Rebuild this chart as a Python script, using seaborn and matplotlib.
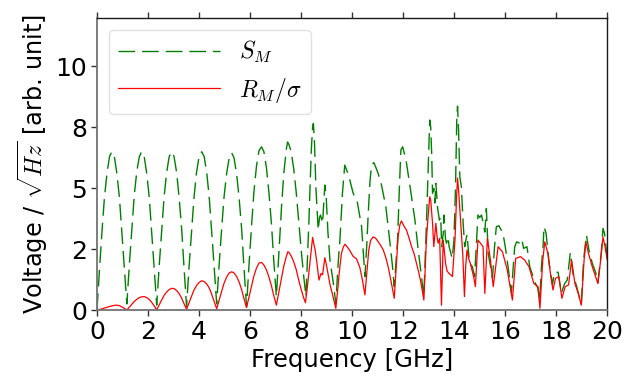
import matplotlib
matplotlib.use("Agg")
import matplotlib.pyplot as plt
import seaborn as sns
from matplotlib.ticker import FormatStrFormatter

# ---- data ----
freq_s = [
    0.00, 0.10, 0.20, 0.29, 0.39, 0.49, 0.58, 0.68, 0.78, 0.88, 0.97, 1.07, 1.17,
    1.27, 1.37, 1.46, 1.56, 1.66, 1.75, 1.85, 1.95, 2.05, 2.14, 2.24, 2.34,
    2.44, 2.54, 2.63, 2.73, 2.83, 2.93, 3.02, 3.12, 3.22, 3.32, 3.41, 3.51,
    3.61, 3.71, 3.80, 3.90, 4.00, 4.10, 4.20, 4.30, 4.40, 4.49, 4.59, 4.69,
    4.79, 4.89, 4.98, 5.08, 5.18, 5.28, 5.37, 5.47, 5.57, 5.67, 5.76, 5.86,
    5.96, 6.06, 6.15, 6.25, 6.35, 6.45, 6.54, 6.64, 6.74, 6.84, 6.93, 7.03,
    7.13, 7.23, 7.32, 7.42, 7.47, 7.52, 7.61, 7.71, 7.81, 7.90, 8.00, 8.10, 8.19,
    8.30, 8.40, 8.45, 8.48, 8.52, 8.58, 8.67, 8.72, 8.76, 8.84, 8.93, 8.98, 9.05,
    9.13, 9.25, 9.36, 9.45, 9.52, 9.62, 9.71, 9.80, 9.91, 10.04, 10.20, 10.37,
    10.50, 10.57, 10.63, 10.70, 10.76, 10.85, 10.93, 11.02, 11.15, 11.32, 11.47,
    11.58, 11.65, 11.72, 11.78, 11.85, 11.91, 11.98, 12.05, 12.11, 12.27, 12.46,
    12.59, 12.70, 12.81, 12.92, 13.00, 13.04, 13.08, 13.12, 13.15, 13.20, 13.24,
    13.28, 13.35, 13.42, 13.47, 13.51, 13.57, 13.60, 13.66, 13.70, 13.76, 13.80,
    13.92, 13.99, 14.05, 14.10, 14.13, 14.17, 14.22, 14.28, 14.35, 14.41, 14.50,
    14.60, 14.71, 14.80, 14.93, 15.00, 15.07, 15.20, 15.26, 15.33, 15.42, 15.50,
    15.58, 15.65, 15.75, 15.91, 16.00, 16.11, 16.24, 16.37, 16.45, 16.57, 16.65,
    16.72, 16.85, 16.96, 17.05, 17.15, 17.28, 17.35, 17.42, 17.48, 17.52, 17.60,
    17.72, 17.85, 17.93, 18.07, 18.20, 18.33, 18.43, 18.55, 18.66, 18.80, 18.98,
    19.07, 19.18, 19.28, 19.41, 19.54, 19.63, 19.76, 19.83, 19.89, 20.00,
]
s_m = [
    0.0, 1.7, 3.3, 4.6, 5.6, 6.3, 6.5, 6.3, 5.6, 4.6, 3.25, 1.7, 0.25,
    1.9, 3.4, 4.7, 5.7, 6.3, 6.5, 6.3, 5.6, 4.6, 3.25, 1.7, 0.2,
    1.85, 3.35, 4.65, 5.65, 6.3, 6.5, 6.3, 5.65, 4.6, 3.3, 1.75, 0.15,
    1.8, 3.3, 4.6, 5.65, 6.3, 6.5, 6.3, 5.65, 4.6, 3.3, 1.8, 0.25,
    1.9, 3.4, 4.65, 5.6, 6.25, 6.45, 6.25, 5.6, 4.6, 3.3, 1.75, 0.14,
    1.9, 3.5, 4.85, 5.9, 6.55, 6.7, 6.5, 5.85, 4.8, 3.5, 2.0, 0.55,
    2.4, 4.2, 5.6, 6.6, 6.9, 6.8, 6.5, 5.8, 4.8, 3.7, 2.5, 1.4, 0.55,
    3.5, 6.6, 7.5, 7.66, 7.0, 5.0, 3.28, 3.8, 3.9, 3.56, 5.13, 4.7, 3.2,
    2.05, 1.2, 0.27, 1.9, 2.87, 4.8, 5.95, 5.7, 5.33, 4.79, 4.44, 3.42,
    1.37, 2.6, 3.97, 5.3, 5.95, 6.05, 5.85, 5.6, 5.13, 4.24, 2.87,
    1.8, 0.96, 2.0, 2.87, 5.0, 6.57, 6.7, 6.4, 6.16, 5.06, 3.69,
    2.46, 1.5, 0.55, 3.83, 6.5, 7.8, 7.5, 6.29, 4.79, 4.99, 4.39,
    5.2, 4.17, 3.69, 3.83, 2.6, 3.15, 3.9, 2.9, 2.74, 3.0, 2.6,
    2.12, 2.87, 5.0, 7.8, 8.37, 7.4, 5.47, 5.06, 3.56, 2.6, 3.1,
    1.92, 1.78, 1.37, 3.9, 3.8, 3.9, 3.2, 4.17, 2.33, 1.8, 1.3,
    2.6, 3.42, 3.46, 3.15, 2.6, 1.78, 0.7, 2.6, 2.8, 2.74, 2.9,
    2.53, 2.6, 1.78, 1.5, 1.16, 0.9, 0.4, 1.8, 2.6, 3.42, 3.15,
    1.92, 1.05, 1.55, 1.55, 0.7, 1.09, 1.23, 2.36, 1.45, 0.96, 0.22,
    2.05, 3.08, 2.46, 1.92, 1.55, 1.12, 2.33, 3.35, 3.15, 2.1,
]

freq_r = [
    0.00, 0.10, 0.20, 0.29, 0.39, 0.49, 0.58, 0.68, 0.78, 0.88, 0.97, 1.07, 1.17,
    1.27, 1.37, 1.46, 1.56, 1.66, 1.75, 1.85, 1.95, 2.05, 2.14, 2.24, 2.34,
    2.44, 2.54, 2.63, 2.73, 2.83, 2.93, 3.02, 3.12, 3.22, 3.32, 3.41, 3.51,
    3.61, 3.71, 3.80, 3.90, 4.00, 4.10, 4.20, 4.30, 4.40, 4.49, 4.59, 4.69,
    4.79, 4.89, 4.98, 5.08, 5.18, 5.28, 5.37, 5.47, 5.57, 5.67, 5.76, 5.86,
    5.96, 6.06, 6.15, 6.25, 6.35, 6.45, 6.54, 6.64, 6.74, 6.84, 6.93, 7.03,
    7.13, 7.23, 7.32, 7.42, 7.48, 7.52, 7.61, 7.71, 7.81, 7.90, 8.00, 8.10, 8.17,
    8.25, 8.35, 8.45, 8.50, 8.55, 8.61, 8.70, 8.78, 8.84, 8.93, 9.00, 9.13,
    9.25, 9.36, 9.45, 9.49, 9.58, 9.66, 9.72, 9.80, 9.92, 10.04, 10.17, 10.30,
    10.40, 10.50, 10.58, 10.65, 10.72, 10.82, 10.92, 11.02, 11.12, 11.22, 11.32,
    11.41, 11.52, 11.65, 11.73, 11.80, 11.87, 11.93, 12.03, 12.13, 12.23, 12.33,
    12.43, 12.52, 12.62, 12.70, 12.81, 12.91, 12.98, 13.04, 13.08, 13.15, 13.20,
    13.28, 13.33, 13.37, 13.43, 13.50, 13.57, 13.66, 13.72, 13.80, 13.86, 13.93,
    14.03, 14.09, 14.13, 14.18, 14.24, 14.34, 14.40, 14.45, 14.50, 14.57, 14.63,
    14.76, 14.83, 14.93, 15.03, 15.13, 15.20, 15.30, 15.42, 15.53, 15.72, 15.89,
    16.08, 16.28, 16.41, 16.60, 16.76, 16.93, 17.12, 17.28, 17.36, 17.47, 17.55,
    17.67, 17.77, 17.87, 17.97, 18.10, 18.22, 18.35, 18.48, 18.60, 18.73, 18.86,
    18.98, 19.09, 19.16, 19.26, 19.41, 19.54, 19.63, 19.74, 19.83, 19.91, 20.00,
]
r_m = [
    0.0, 0.02, 0.05, 0.08, 0.11, 0.14, 0.17, 0.19, 0.2, 0.18, 0.13, 0.07, 0.0,
    0.12, 0.24, 0.35, 0.44, 0.51, 0.54, 0.55, 0.51, 0.43, 0.32, 0.17, 0.01,
    0.22, 0.42, 0.6, 0.74, 0.84, 0.89, 0.88, 0.8, 0.67, 0.48, 0.26, 0.03,
    0.3, 0.57, 0.82, 1.0, 1.13, 1.2, 1.17, 1.07, 0.9, 0.66, 0.36, 0.05,
    0.42, 0.78, 1.1, 1.35, 1.52, 1.57, 1.52, 1.38, 1.15, 0.83, 0.47, 0.1,
    0.55, 1.0, 1.4, 1.72, 1.93, 1.95, 1.85, 1.65, 1.35, 0.98, 0.58, 0.2,
    0.75, 1.3, 1.8, 2.2, 2.39, 2.37, 2.22, 1.98, 1.65, 1.25, 0.85, 0.5, 0.3,
    1.0, 2.0, 2.98, 2.7, 2.46, 2.0, 1.23, 1.5, 1.44, 2.15, 1.8, 1.05,
    0.55, 0.07, 1.0, 1.5, 2.33, 2.6, 2.7, 2.6, 2.42, 2.2, 2.1, 1.75,
    1.25, 0.62, 1.6, 2.45, 2.85, 3.0, 2.95, 2.8, 2.65, 2.46, 2.15,
    1.78, 1.2, 0.48, 1.8, 3.0, 3.5, 3.66, 3.45, 3.28, 2.95, 2.6,
    2.3, 1.92, 1.5, 1.09, 0.41, 2.87, 3.9, 4.65, 4.5, 3.56, 2.6,
    3.56, 3.0, 2.74, 2.94, 0.2, 2.87, 1.92, 1.6, 1.5, 1.45, 1.37,
    2.87, 4.6, 5.42, 4.8, 3.83, 2.19, 0.55, 1.8, 2.46, 2.1, 1.92,
    1.37, 0.96, 2.87, 2.74, 2.6, 0.68, 2.94, 2.05, 0.96, 2.6, 2.39,
    1.64, 0.41, 2.12, 2.19, 2.05, 1.78, 1.09, 0.96, 0.07, 2.05, 2.8,
    2.33, 1.5, 0.82, 1.3, 1.37, 0.48, 0.96, 1.03, 2.05, 1.09, 0.68,
    0.2, 2.05, 2.8, 2.33, 1.78, 1.37, 1.09, 2.05, 3.0, 2.6, 2.05,
]

y_ticks = [0, 2.5, 5, 7.5, 10]
x_ticks = [0, 2, 4, 6, 8, 10, 12, 14, 16, 18, 20]
label_s = r"$S_M$"
label_r = r"$R_M/\sigma$"
x_label = "Frequency [GHz]"
y_label = r"Voltage / $\sqrt{Hz}$ [arb. unit]"

# ---- style ----
sns.set_style("ticks")
plt.rcParams["font.family"] = ["DejaVu Sans"]
plt.rcParams["mathtext.fontset"] = "cm"
for key in ["text.color", "axes.labelcolor", "xtick.color", "ytick.color"]:
    plt.rcParams[key] = "black"

fig, ax = plt.subplots(figsize=(6.25, 3.77), dpi=100)
fig.subplots_adjust(left=0.1552, right=0.9717, bottom=0.1777, top=0.953)

sns.lineplot(x=freq_s, y=s_m, ax=ax, color="green", linewidth=1.0,
             linestyle=(0, (12, 5)), sort=False, estimator=None, label=label_s)
sns.lineplot(x=freq_r, y=r_m, ax=ax, color="red", linewidth=0.9,
             sort=False, estimator=None, label=label_r)

ax.set_xlim(0, 20)
ax.set_ylim(0, 12)
ax.set_xticks(x_ticks)
ax.set_yticks(y_ticks)
ax.yaxis.set_major_formatter(FormatStrFormatter("%.0f"))
ax.tick_params(axis="both", labelsize=18, length=4, width=1, color="0.2",
               labelcolor="black", pad=3)
ax.tick_params(axis="x", top=True, labeltop=False)
ax.set_xlabel(x_label, fontsize=17.5, labelpad=3)
ax.set_ylabel(y_label, fontsize=17.3, labelpad=4)

for side in ["right", "top"]:
    ax.spines[side].set_color("0.1")
    ax.spines[side].set_linewidth(1.0)
for side in ["left", "bottom"]:
    ax.spines[side].set_color("0.45")
    ax.spines[side].set_linewidth(1.3)
ax.grid(False)

leg = ax.legend(loc="upper left", fontsize=17, handlelength=4.3,
                borderaxespad=0.5, frameon=True, fancybox=True,
                handletextpad=0.8, borderpad=0.4, labelspacing=0.45)
leg.get_frame().set_edgecolor("0.85")

fig.savefig("out.png", dpi=100)
